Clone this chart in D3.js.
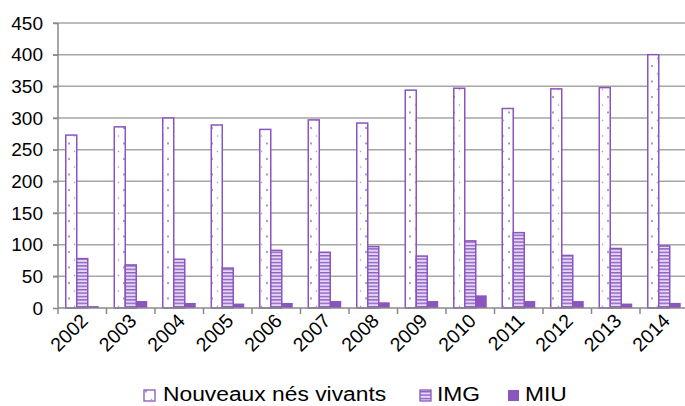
<!DOCTYPE html>
<html><head><meta charset="utf-8">
<script src="https://cdnjs.cloudflare.com/ajax/libs/d3/7.8.5/d3.min.js"></script>
<style>body{margin:0;background:#fff;} svg{display:block;font-family:"Liberation Sans",Arial,sans-serif;}</style>
</head><body><svg id="c" width="685" height="406"></svg>
<script>
const years = ["2002","2003","2004","2005","2006","2007","2008","2009","2010","2011","2012","2013","2014"];
const seriesNames = ["Nouveaux nés vivants","IMG","MIU"];
const nouveaux = [273,286,300,289,282,297,292,344,347,315,346,348,400];
const img = [78,68,77,63,91,88,97,82,106,119,83,94,98];
const miu = [3,11,8,7,8,11,9,11,20,11,11,7,8];
const yTicks = [0,50,100,150,200,250,300,350,400,450];

const purple = "#8a55bf";
const svg = d3.select("#c");
const defs = svg.append("defs");
const pd = defs.append("pattern").attr("id","dots").attr("patternUnits","userSpaceOnUse")
  .attr("width",11).attr("height",15.5);
pd.append("rect").attr("width",11).attr("height",15.5).attr("fill","#fff");
pd.append("circle").attr("cx",3).attr("cy",4).attr("r",1).attr("fill","#a07ad0");
pd.append("circle").attr("cx",8.5).attr("cy",12).attr("r",0.8).attr("fill","#b595dc");
const ps = defs.append("pattern").attr("id","stripes").attr("patternUnits","userSpaceOnUse")
  .attr("width",10).attr("height",3.4);
ps.append("rect").attr("width",10).attr("height",3.4).attr("fill","#e4d8f2");
ps.append("rect").attr("y",0).attr("width",10).attr("height",1.4).attr("fill","#8f5fc4");

const x0 = d3.scaleBand().domain(years).range([58, 688.5]).paddingInner(0.32).paddingOuter(0.16);
const x1 = d3.scaleBand().domain(seriesNames).range([0, x0.bandwidth()]);
const y = d3.scaleLinear().domain([0,450]).range([308,23]);

// grid
svg.append("g").selectAll("line").data(yTicks.filter(d=>d>0)).join("line")
  .attr("x1",53).attr("x2",685).attr("y1",d=>y(d)).attr("y2",d=>y(d))
  .attr("stroke","#a6a6a6").attr("stroke-width",1.5);

const series = [nouveaux, img, miu];
const fills = ["url(#dots)","url(#stripes)",purple];
series.forEach((vals,si)=>{
  svg.append("g").selectAll("rect").data(vals).join("rect")
    .attr("x",(d,i)=>x0(years[i])+x1(seriesNames[si]))
    .attr("y",d=>y(d))
    .attr("width",x1.bandwidth())
    .attr("height",d=>y(0)-y(d))
    .attr("fill",fills[si])
    .attr("stroke",purple).attr("stroke-width",si===2?0:1.5);
});

// y axis
const ya = d3.axisLeft(y).tickValues(yTicks).tickSize(5).tickPadding(10);
const gy = svg.append("g").attr("transform","translate(58,0)").call(ya);
gy.attr("font-family",null);
gy.select(".domain").attr("stroke","#888").attr("stroke-width",1.5).attr("d","M0,23V308");
gy.selectAll(".tick line").attr("stroke","#888").attr("stroke-width",1.5);
gy.selectAll("text").attr("font-size",19).attr("fill","#000");

// x axis
const xTickScale = d3.scaleLinear().domain([0,13]).range([58,688.5]);
const gx = svg.append("g");
gx.append("line").attr("x1",58).attr("x2",685).attr("y1",308).attr("y2",308).attr("stroke","#888").attr("stroke-width",1.5);
gx.selectAll("line.t").data(d3.range(0,14)).join("line").attr("class","t")
  .attr("x1",d=>xTickScale(d)).attr("x2",d=>xTickScale(d)).attr("y1",308).attr("y2",314)
  .attr("stroke","#888").attr("stroke-width",1.5);
gx.selectAll("text").data(years).join("text")
  .attr("transform",d=>`translate(${x0(d)+x0.bandwidth()/2+7},${322}) rotate(-45)`)
  .attr("text-anchor","end").attr("font-size",19.5).attr("fill","#000").text(d=>d);

// legend
const leg = [{n:seriesNames[0],f:"url(#dots)",x:144,tx:163},{n:seriesNames[1],f:"url(#stripes)",x:420,tx:437},{n:seriesNames[2],f:purple,x:508,tx:525}];
const lg = svg.append("g");
leg.forEach(l=>{
  lg.append("rect").attr("x",l.x).attr("y",390).attr("width",11).attr("height",11)
    .attr("fill",l.f).attr("stroke",purple).attr("stroke-width",l.f===purple?0:1.3);
  lg.append("text").attr("transform",`translate(${l.tx},401) scale(1.17,1)`)
    .attr("font-size",19.5).attr("fill","#000").text(l.n);
});
</script></body></html>
